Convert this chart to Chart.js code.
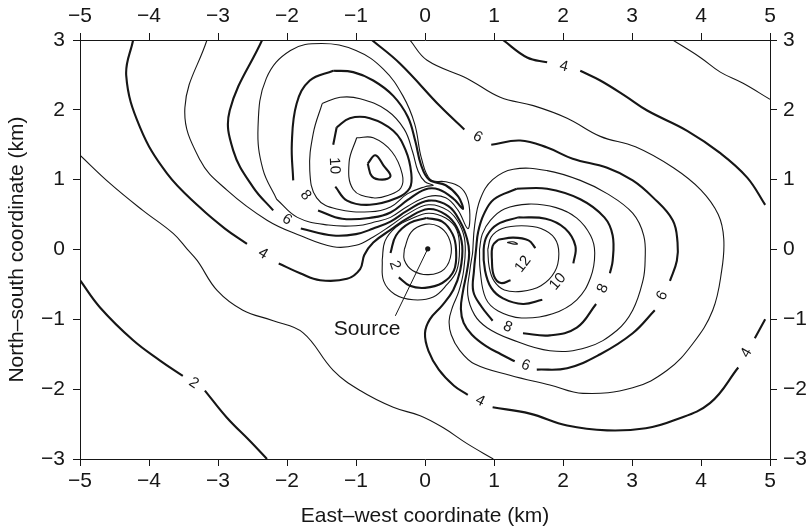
<!DOCTYPE html>
<html>
<head>
<meta charset="utf-8">
<script src="https://cdn.jsdelivr.net/npm/chart.js@4.4.1/dist/chart.umd.min.js"></script>
<style>
  html, body { margin: 0; padding: 0; background: #fff; }
</style>
</head>
<body>
<canvas id="grafico" width="809" height="529"></canvas>
<script>
// contour lines, [east km, north km]; null = gap where the level is written
var level2Outer = [[-5.0,-0.44],[-4.71,-0.83],[-4.23,-1.30],[-3.84,-1.59],[-3.51,-1.81],null,[-3.19,-2.02],[-2.87,-2.41],[-2.54,-2.74],[-2.29,-3.0]];
var level3Outer = [[-5,1.35],[-4.57,0.95],[-4.09,0.56],[-3.65,0.23],[-3.45,0.01],[-3.3,-0.16],[-3.01,-0.59],[-2.64,-0.87],[-2.2,-1.02],[-1.77,-1.19],[-1.33,-1.73],[-0.94,-2.02],[-0.46,-2.26],[-0.07,-2.38],[0.26,-2.55],[0.61,-2.78],[0.99,-3.0]];
var level3Corner = [[3.59,3.0],[3.99,2.75],[4.28,2.54],[4.61,2.38],[5.0,2.15]];
var level4North = [[1.13,3.0],[1.48,2.75],[1.77,2.68],null,[2.25,2.56],[2.54,2.42],[2.9,2.2],[3.22,1.99],[3.8,1.7],[4.28,1.38],[4.67,1.03],[4.93,0.64]];
var level4Main = [[-4.23,3.0],[-4.33,2.49],[-4.13,1.75],[-3.74,1.09],[-3.26,0.6],[-2.9,0.3],[-2.58,0.08],null,[-2.12,-0.2],[-1.81,-0.34],[-1.52,-0.44],[-1.13,-0.42],[-0.94,-0.28],[-0.88,-0.08],[-0.75,0.1],[-0.5,0.28],[-0.25,0.45],[0.05,0.58],[0.3,0.5],[0.46,0.32],[0.54,0.05],[0.51,-0.3],[0.41,-0.58],[0.25,-0.8],[0.07,-1.0],[0.0,-1.2],[0.05,-1.45],[0.2,-1.72],[0.42,-1.95],[0.62,-2.08],null,[0.98,-2.26],[1.52,-2.35],[2.06,-2.52],[2.64,-2.59],[3.2,-2.56],[3.6,-2.45],[4.13,-2.2],[4.54,-1.69],null,[4.78,-1.27],[4.93,-1.0]];
var level5 = [[-3.16,3.0],[-3.48,2.03],[-3.26,1.28],[-2.87,0.85],[-2.29,0.42],[-1.81,0.2],[-1.33,0.04],[-1.0,0.06],[-0.75,0.18],[-0.5,0.34],[-0.25,0.51],[0.05,0.64],[0.33,0.56],[0.5,0.36],[0.58,0.1],[0.56,-0.3],[0.49,-0.6],[0.4,-0.82],[0.35,-1.02],[0.38,-1.22],[0.5,-1.44],[0.72,-1.64],[1.23,-1.8],[1.81,-1.94],[2.29,-2.06],[3.01,-1.98],[3.51,-1.73],[3.88,-1.35],[4.17,-0.87],[4.3,-0.3],[4.33,0.15],[4.25,0.5],[4.0,0.85],[3.6,1.17],[3.05,1.47],[2.54,1.62],[2.06,1.88],[1.57,2.06],[1.09,2.18],[0.61,2.45],[0.03,2.71],[-0.22,3.0]];
var level6 = [[-2.36,3.0],[-2.83,1.99],[-2.78,1.42],[-2.49,0.89],[-2.2,0.56],null,[-1.8,0.3],[-1.33,0.2],[-1.0,0.22],[-0.75,0.3],[-0.5,0.4],[-0.25,0.56],[0.05,0.7],[0.34,0.62],[0.52,0.38],[0.61,0.15],[0.64,-0.05],[0.61,-0.3],[0.55,-0.6],[0.52,-0.85],[0.56,-1.05],[0.68,-1.22],[0.88,-1.38],[1.1,-1.5],[1.3,-1.6],null,[1.62,-1.72],[2.06,-1.7],[2.54,-1.5],[3.01,-1.2],[3.33,-0.87],null,[3.55,-0.45],[3.65,-0.16],[3.66,0.1],[3.59,0.42],[3.3,0.75],[3.01,0.99],[2.64,1.17],[2.14,1.3],[1.77,1.46],[1.38,1.56],[0.96,1.5],null,[0.57,1.72],[0.22,2.05],[-0.36,2.66],[-0.77,3.0]];

// north-west lobe
var nw7 = [[-2.15,0.72],[-1.85,0.46],[-1.4,0.35],[-1.0,0.34],[-0.7,0.4],[-0.5,0.46],[-0.25,0.62],[0.05,0.76],[0.3,0.74],[0.48,0.56],[0.62,0.3],[0.65,0.5],[0.61,0.75],[0.5,0.9],[0.3,0.97],[0.08,1.0],[-0.05,1.3],[-0.15,1.8],[-0.32,2.2],[-0.6,2.58],[-1.0,2.85],[-1.5,2.95],[-1.95,2.85],[-2.3,2.45],[-2.42,1.75],[-2.35,1.15],[-2.15,0.72]];
var nw8 = [[-1.33,2.56],[-1.04,2.54],[-0.75,2.42],[-0.46,2.2],[-0.25,1.9],[-0.14,1.55],[-0.06,1.22],[0.06,1.0],[0.3,0.92],[0.48,0.76],[0.55,0.58],[0.42,0.72],[0.2,0.86],[0.0,0.86],[-0.25,0.71],[-0.5,0.53],[-0.75,0.46],[-1.2,0.44],[-1.55,0.56],null,[-1.91,0.99],[-1.93,1.52],[-1.86,2.09],[-1.67,2.42],[-1.33,2.56]];
var nw9 = [[-1.49,2.09],[-1.23,2.18],[-0.94,2.16],[-0.55,1.99],[-0.3,1.72],[-0.18,1.4],[-0.1,1.12],[0.0,0.97],[0.12,0.92],[0.0,0.9],[-0.25,0.8],[-0.5,0.61],[-0.8,0.54],[-1.28,0.58],[-1.57,0.74],[-1.67,1.13],[-1.62,1.66],[-1.49,2.09]];
var nw10 = [[-1.28,1.75],[-1.09,1.88],[-0.8,1.88],[-0.46,1.7],[-0.28,1.42],[-0.2,1.1],[-0.22,0.88],[-0.4,0.74],[-0.8,0.64],[-1.13,0.7],[-1.3,0.9],null,[-1.33,1.5],[-1.28,1.75]];
var nw11 = [[-0.99,1.6],[-0.75,1.6],[-0.48,1.4],[-0.33,1.08],[-0.35,0.88],[-0.52,0.78],[-0.75,0.74],[-1.04,0.86],[-1.1,1.25],[-0.99,1.6]];
var nw12 = [[-0.83,1.23],[-0.72,1.35],[-0.6,1.2],[-0.5,1.05],[-0.62,1.0],[-0.77,1.05],[-0.83,1.23]];

// east lobe
var e7 = [[0.69,-0.05],[0.72,0.35],[0.8,0.72],[0.98,1.0],[1.28,1.15],[1.77,1.13],[2.25,0.99],[2.64,0.8],[3.01,0.52],[3.17,0.2],[3.19,-0.16],[3.16,-0.44],[3.01,-0.87],[2.78,-1.16],[2.35,-1.4],[1.81,-1.45],[1.23,-1.28],[0.9,-1.12],[0.72,-0.94],[0.62,-0.65],[0.65,-0.3],[0.69,-0.05]];
var e8 = [[1.33,0.87],[1.77,0.87],[2.25,0.72],[2.6,0.46],[2.72,0.2],[2.72,-0.16],[2.68,-0.34],null,[2.48,-0.78],[2.2,-1.12],[1.81,-1.23],[1.42,-1.2],null,[0.98,-1.02],[0.82,-0.82],[0.7,-0.6],[0.71,-0.3],[0.74,0.0],[0.77,0.25],[0.85,0.5],[1.0,0.72],[1.33,0.87]];
var e9 = [[0.79,0.0],[0.83,0.22],[0.95,0.42],[1.15,0.58],[1.5,0.65],[1.9,0.6],[2.2,0.45],[2.4,0.2],[2.46,-0.05],[2.4,-0.4],[2.2,-0.72],[1.85,-0.92],[1.4,-0.98],[1.06,-0.88],[0.88,-0.7],[0.8,-0.3],[0.79,0.0]];
var e10 = [[1.35,0.46],[1.75,0.44],[2.03,0.3],[2.18,0.05],[2.15,-0.2],null,[1.7,-0.72],[1.42,-0.78],[1.13,-0.7],[0.96,-0.55],[0.87,-0.3],[0.85,0.0],[0.9,0.2],[1.05,0.36],[1.35,0.46]];
var e11 = [[0.91,0.0],[0.96,0.18],[1.12,0.3],[1.4,0.34],[1.68,0.3],[1.88,0.16],[1.94,-0.06],[1.88,-0.32],[1.68,-0.52],[1.4,-0.6],[1.15,-0.58],[1.0,-0.45],[0.93,-0.25],[0.91,0.0]];
var e12 = [[1.06,0.14],[1.28,0.17],[1.5,0.13],[1.6,0.02],null,[1.24,-0.44],[1.1,-0.48],[1.0,-0.38],[0.97,-0.15],[0.98,0.05],[1.06,0.14]];
var e13 = [[1.19,0.1],[1.27,0.11],[1.34,0.08],[1.27,0.08],[1.19,0.1]];

// low around the source
var src1 = [[-0.3,0.0],[-0.2,0.25],[0.0,0.36],[0.2,0.33],[0.34,0.18],[0.38,-0.05],[0.28,-0.28],[0.05,-0.36],[-0.18,-0.3],[-0.3,-0.15],[-0.3,0.0]];
var src2 = [[0.02,0.45],[0.25,0.4],[0.4,0.22],[0.45,0.0],[0.42,-0.3],[0.25,-0.48],[0.0,-0.55],[-0.22,-0.52],[-0.38,-0.4],null,[-0.5,-0.05],[-0.42,0.2],[-0.22,0.38],[0.02,0.45]];
var src3 = [[-0.62,-0.15],[-0.58,0.12],[-0.42,0.32],[-0.2,0.44],[0.05,0.52],[0.3,0.45],[0.46,0.28],[0.5,0.0],[0.46,-0.3],[0.32,-0.5],[0.12,-0.68],[-0.17,-0.72],[-0.44,-0.64],[-0.6,-0.45],[-0.62,-0.15]];

var sourcePoint = [0.04, 0.01];
var sourcePointer = [[0.04,0.01],[-0.43,-0.95]];
var sourceText = ['Source', -0.84, -1.14];

var contours = [
  [2, level2Outer], [3, level3Outer], [3, level3Corner], [4, level4North], [4, level4Main],
  [5, level5], [6, level6],
  [7, nw7], [8, nw8], [9, nw9], [10, nw10], [11, nw11], [12, nw12],
  [7, e7], [8, e8], [9, e9], [10, e10], [11, e11], [12, e12], [13, e13],
  [1, src1], [2, src2], [3, src3]
];

var ink = '#161616';
var fonte = '"Liberation Sans", Arial, Helvetica, sans-serif';

function pieces(points) {
  var out = [], cur = [];
  points.forEach(function (p) {
    if (p === null) { out.push(cur); cur = []; }
    else cur.push({x: p[0], y: p[1]});
  });
  out.push(cur);
  return out;
}

var datasets = [];
var levelLabels = [];
contours.forEach(function (c) {
  var level = c[0], pts = c[1];
  pieces(pts).forEach(function (seg) {
    datasets.push({
      data: seg,
      showLine: true,
      borderColor: ink,
      borderWidth: level % 2 === 0 ? 2.1 : 1.1,
      pointRadius: 0,
      tension: 0.4,
      fill: false
    });
  });
  for (var i = 0; i < pts.length; i++) {
    if (pts[i] === null) levelLabels.push([String(level), pts[i - 1], pts[i + 1]]);
  }
});

datasets.push({
  data: sourcePointer.map(function (p) { return {x: p[0], y: p[1]}; }),
  showLine: true, borderColor: ink, borderWidth: 1, pointRadius: 0, tension: 0
});
datasets.push({
  data: [{x: sourcePoint[0], y: sourcePoint[1]}],
  showLine: false, pointRadius: 2.6, backgroundColor: ink, borderColor: ink, borderWidth: 0
});

var textos = {
  id: 'textos',
  afterDatasetsDraw: function (chart) {
    var ctx = chart.ctx, sx = chart.scales.x, sy = chart.scales.y;
    ctx.save();
    ctx.fillStyle = ink;
    ctx.textAlign = 'center';
    ctx.textBaseline = 'middle';
    ctx.font = '15px ' + fonte;
    levelLabels.forEach(function (l) {
      var x1 = sx.getPixelForValue(l[1][0]), y1 = sy.getPixelForValue(l[1][1]);
      var x2 = sx.getPixelForValue(l[2][0]), y2 = sy.getPixelForValue(l[2][1]);
      var ang = Math.atan2(y2 - y1, x2 - x1);
      if (ang > Math.PI / 2) ang -= Math.PI;
      if (ang < -Math.PI / 2) ang += Math.PI;
      ctx.save();
      ctx.translate((x1 + x2) / 2, (y1 + y2) / 2);
      ctx.rotate(ang);
      ctx.fillText(l[0], 0, 0);
      ctx.restore();
    });
    ctx.font = '21px ' + fonte;
    ctx.fillText(sourceText[0], sx.getPixelForValue(sourceText[1]), sy.getPixelForValue(sourceText[2]));
    ctx.restore();
  }
};

function menos(v) { return v < 0 ? '\u2212' + Math.abs(v) : '' + v; }

function eixo(pos, min, max, titulo, tamanho) {
  var e = {
    type: 'linear', position: pos, min: min, max: max,
    ticks: { stepSize: 1, color: ink, font: { family: fonte, size: 21 }, callback: menos,
             padding: pos === 'left' ? 8 : pos === 'right' ? 6 : pos === 'top' ? 4 : 3, maxRotation: 0 },
    grid: { drawOnChartArea: false, drawTicks: true, tickLength: 7, color: ink },
    border: { display: true, color: ink, width: 1 },
    afterFit: function (scale) {
      if (pos === 'left' || pos === 'right') scale.width = tamanho; else scale.height = tamanho;
    }
  };
  if (titulo) {
    e.title = { display: true, text: titulo, color: ink, font: { family: fonte, size: 21 },
                padding: pos === 'left' ? { top: 5, bottom: 0 } : { top: 0, bottom: 0 } };
  }
  return e;
}

new Chart(document.getElementById('grafico').getContext('2d'), {
  type: 'scatter',
  data: { datasets: datasets },
  options: {
    responsive: false,
    animation: false,
    events: [],
    layout: { padding: 0 },
    plugins: { legend: { display: false }, tooltip: { enabled: false } },
    scales: {
      x: eixo('bottom', -5, 5, 'East\u2013west coordinate (km)', 70),
      x2: eixo('top', -5, 5, null, 40),
      y: eixo('left', -3, 3, 'North\u2013south coordinate (km)', 80),
      y2: eixo('right', -3, 3, null, 39)
    }
  },
  plugins: [textos]
});
</script>
</body>
</html>
